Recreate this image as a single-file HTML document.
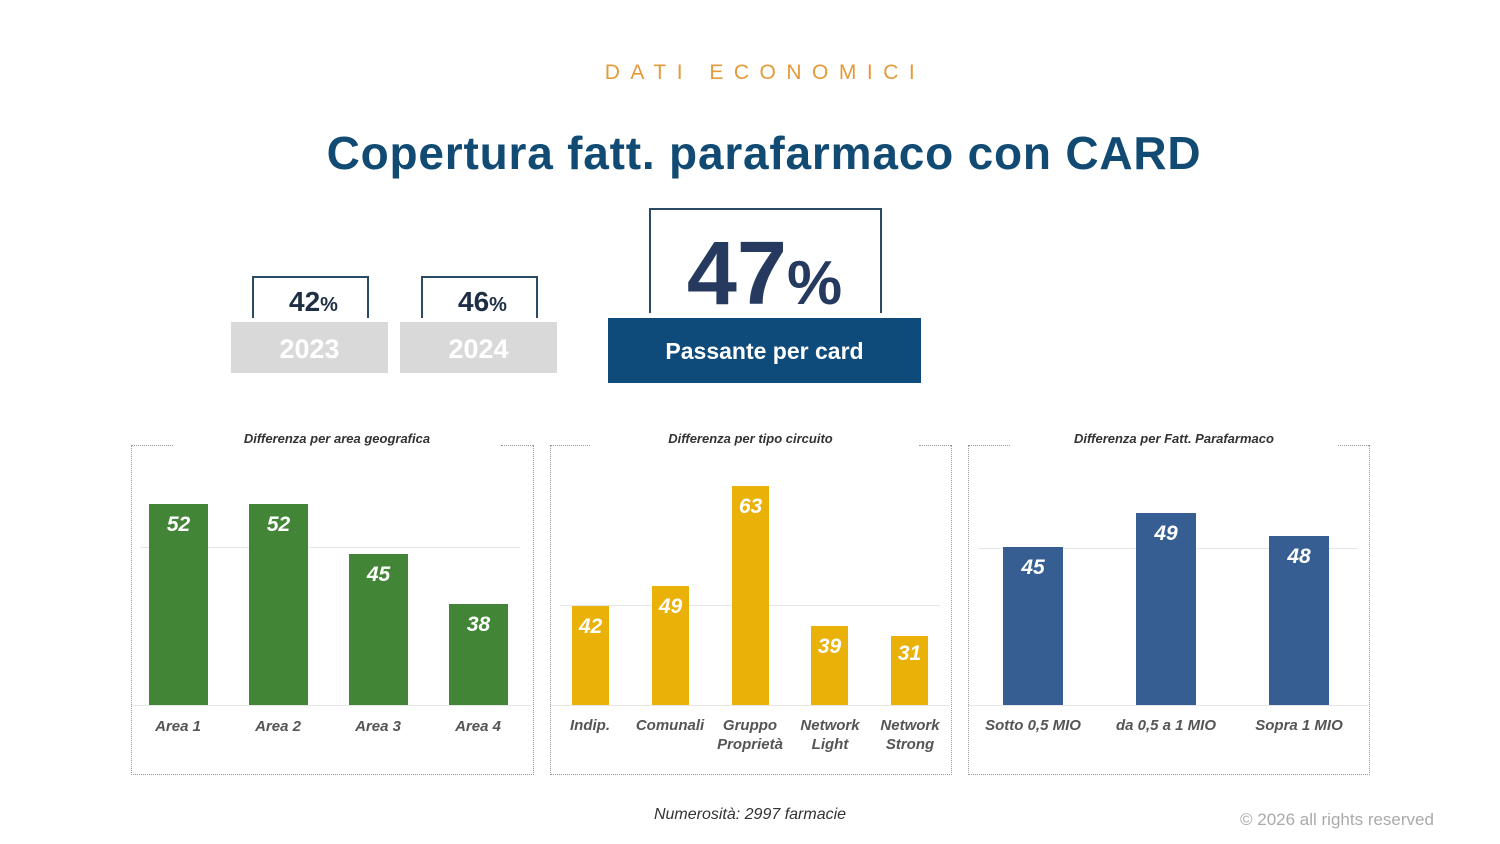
<!DOCTYPE html>
<html><head><meta charset="utf-8"><style>
body{margin:0;width:1500px;height:844px;background:#fff;position:relative;overflow:hidden;font-family:"Liberation Sans",sans-serif}
.a{position:absolute}
.bar{position:absolute;}
.v{position:absolute;color:#fff;font-weight:bold;font-style:italic;font-size:21px;text-align:center}
.l{position:absolute;color:#555;font-style:italic;font-size:15px;text-align:center;line-height:19px;font-weight:bold}
.pt{position:absolute;font-size:13px;font-style:italic;font-weight:bold;color:#333;text-align:center}
.bd{position:absolute;border:1px dotted #999}
.gl{position:absolute;height:1px;background:#e6e6e6}
</style></head><body>
<div class="a" style="left:0;width:1530px;top:61px;text-align:center;font-size:21px;letter-spacing:10.5px;color:#e39a3b">DATI ECONOMICI</div>
<div class="a" style="left:0;width:1528px;top:126px;text-align:center;font-size:46px;letter-spacing:0.8px;font-weight:bold;color:#114a73">Copertura fatt. parafarmaco con CARD</div>

<div class="a" style="left:252px;top:276px;width:113px;height:40px;border:2px solid #2a4a66;border-bottom:none"></div>
<div class="a" style="left:256px;top:286px;width:115px;text-align:center;font-size:28px;font-weight:bold;color:#1d2e45">42<span style="font-size:20px">%</span></div>
<div class="a" style="left:231px;top:322px;width:157px;height:51px;background:#d9d9d9;color:#fff;font-size:27px;font-weight:bold;text-align:center;line-height:54px">2023</div>
<div class="a" style="left:421px;top:276px;width:113px;height:40px;border:2px solid #2a4a66;border-bottom:none"></div>
<div class="a" style="left:425px;top:286px;width:115px;text-align:center;font-size:28px;font-weight:bold;color:#1d2e45">46<span style="font-size:20px">%</span></div>
<div class="a" style="left:400px;top:322px;width:157px;height:51px;background:#d9d9d9;color:#fff;font-size:27px;font-weight:bold;text-align:center;line-height:54px">2024</div>

<div class="a" style="left:649px;top:208px;width:229px;height:103px;border:2px solid #2a4a66;border-bottom:none"></div>
<div class="a" style="left:649px;top:226px;width:231px;text-align:center;font-size:90px;font-weight:bold;color:#253a5e;line-height:96px">47<span style="font-size:62px">%</span></div>
<div class="a" style="left:608px;top:318px;width:313px;height:65px;background:#0e4a7a;color:#fff;font-size:23px;font-weight:bold;text-align:center;line-height:67px">Passante per card</div>

<!-- panel 1 -->
<div class="bd" style="left:131px;top:445px;width:401px;height:329px;border-top:none"></div>
<div class="a" style="left:131px;top:445px;width:42px;border-top:1px dotted #999"></div>
<div class="a" style="left:501px;top:445px;width:32px;border-top:1px dotted #999"></div>
<div class="pt" style="left:131px;top:431px;width:412px">Differenza per area geografica</div>
<div class="gl" style="left:140px;top:547px;width:380px"></div>
<div class="gl" style="left:131px;top:705px;width:400px"></div>
<div class="bar" style="left:149px;top:504px;width:59px;height:201px;background:#438536"></div>
<div class="bar" style="left:249px;top:504px;width:59px;height:201px;background:#438536"></div>
<div class="bar" style="left:349px;top:554px;width:59px;height:151px;background:#438536"></div>
<div class="bar" style="left:449px;top:604px;width:59px;height:101px;background:#438536"></div>
<div class="v" style="left:149px;top:513px;width:59px">52</div>
<div class="v" style="left:249px;top:513px;width:59px">52</div>
<div class="v" style="left:349px;top:563px;width:59px">45</div>
<div class="v" style="left:449px;top:613px;width:59px">38</div>
<div class="l" style="left:138px;top:717px;width:80px">Area 1</div>
<div class="l" style="left:238px;top:717px;width:80px">Area 2</div>
<div class="l" style="left:338px;top:717px;width:80px">Area 3</div>
<div class="l" style="left:438px;top:717px;width:80px">Area 4</div>

<!-- panel 2 -->
<div class="bd" style="left:550px;top:445px;width:400px;height:329px;border-top:none"></div>
<div class="a" style="left:550px;top:445px;width:40px;border-top:1px dotted #999"></div>
<div class="a" style="left:919px;top:445px;width:32px;border-top:1px dotted #999"></div>
<div class="pt" style="left:550px;top:431px;width:401px">Differenza per tipo circuito</div>
<div class="gl" style="left:560px;top:605px;width:380px"></div>
<div class="gl" style="left:550px;top:705px;width:400px"></div>
<div class="bar" style="left:572px;top:606px;width:37px;height:99px;background:#eab208"></div>
<div class="bar" style="left:652px;top:586px;width:37px;height:119px;background:#eab208"></div>
<div class="bar" style="left:732px;top:486px;width:37px;height:219px;background:#eab208"></div>
<div class="bar" style="left:811px;top:626px;width:37px;height:79px;background:#eab208"></div>
<div class="bar" style="left:891px;top:636px;width:37px;height:69px;background:#eab208"></div>
<div class="v" style="left:565px;top:615px;width:51px">42</div>
<div class="v" style="left:645px;top:595px;width:51px">49</div>
<div class="v" style="left:725px;top:495px;width:51px">63</div>
<div class="v" style="left:804px;top:635px;width:51px">39</div>
<div class="v" style="left:884px;top:642px;width:51px">31</div>
<div class="l" style="left:550px;top:716px;width:80px">Indip.</div>
<div class="l" style="left:630px;top:716px;width:80px">Comunali</div>
<div class="l" style="left:710px;top:716px;width:80px">Gruppo<br>Proprietà</div>
<div class="l" style="left:790px;top:716px;width:80px">Network<br>Light</div>
<div class="l" style="left:870px;top:716px;width:80px">Network<br>Strong</div>

<!-- panel 3 -->
<div class="bd" style="left:968px;top:445px;width:400px;height:329px;border-top:none"></div>
<div class="a" style="left:968px;top:445px;width:42px;border-top:1px dotted #999"></div>
<div class="a" style="left:1338px;top:445px;width:31px;border-top:1px dotted #999"></div>
<div class="pt" style="left:968px;top:431px;width:412px">Differenza per Fatt. Parafarmaco</div>
<div class="gl" style="left:978px;top:548px;width:380px"></div>
<div class="gl" style="left:968px;top:705px;width:400px"></div>
<div class="bar" style="left:1003px;top:547px;width:60px;height:158px;background:#365e93"></div>
<div class="bar" style="left:1136px;top:513px;width:60px;height:192px;background:#365e93"></div>
<div class="bar" style="left:1269px;top:536px;width:60px;height:169px;background:#365e93"></div>
<div class="v" style="left:1003px;top:556px;width:60px">45</div>
<div class="v" style="left:1136px;top:522px;width:60px">49</div>
<div class="v" style="left:1269px;top:545px;width:60px">48</div>
<div class="l" style="left:973px;top:716px;width:120px">Sotto 0,5 MIO</div>
<div class="l" style="left:1101px;top:716px;width:130px">da 0,5 a 1 MIO</div>
<div class="l" style="left:1239px;top:716px;width:120px">Sopra 1 MIO</div>

<div class="a" style="left:600px;top:806px;width:300px;text-align:center;font-size:16px;font-style:italic;color:#333">Numerosità: 2997 farmacie</div>
<div class="a" style="left:1240px;top:810px;font-size:17px;color:#aaa">© 2026 all rights reserved</div>
</body></html>
